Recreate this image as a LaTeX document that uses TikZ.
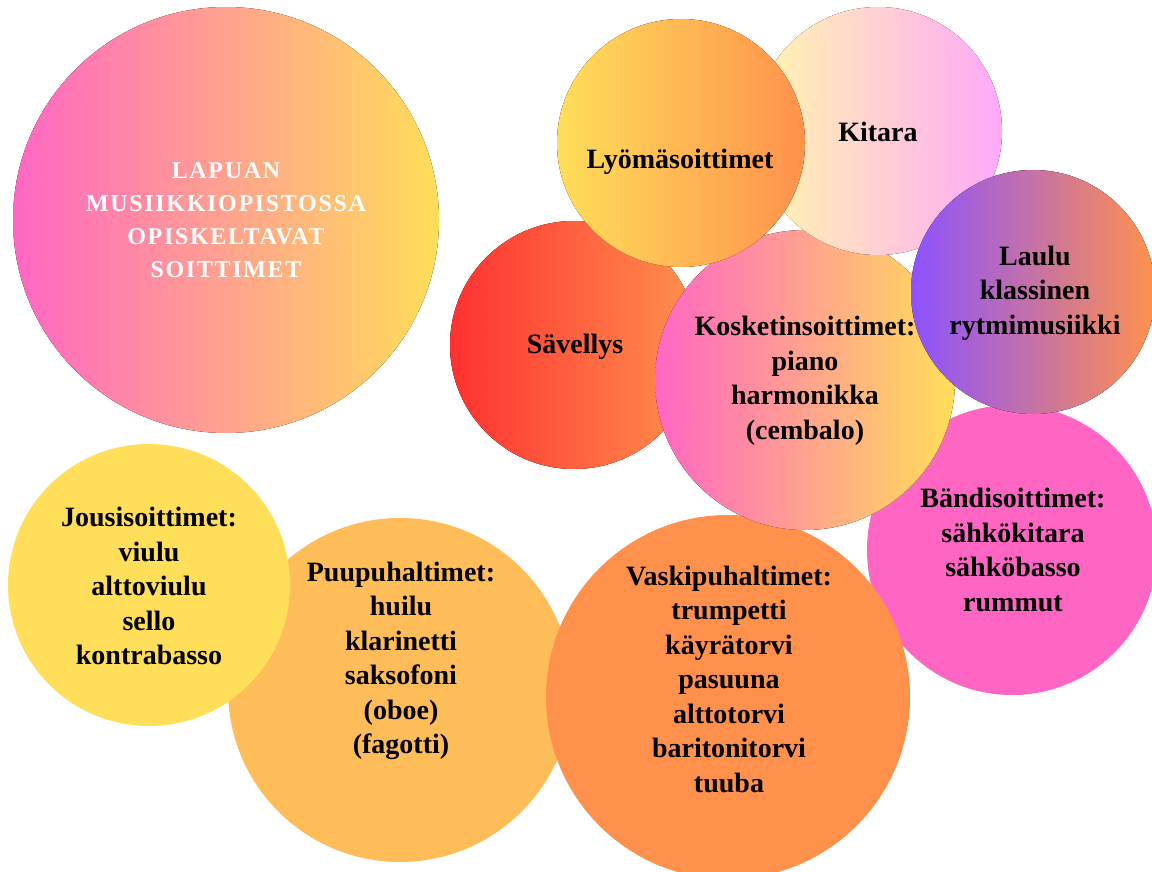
\documentclass[tikz,border=0pt]{standalone}
\usepackage{fontspec}
\setmainfont{Liberation Serif}
\newfontfamily\headfont[LetterSpace=7]{Liberation Serif}
\definecolor{rosa}{HTML}{FF66C4}
\definecolor{gelb}{HTML}{FFDE59}
\definecolor{oranssi}{HTML}{FF914D}
\definecolor{vaalea}{HTML}{FFBD59}
\definecolor{punainen}{HTML}{FF3131}
\definecolor{violetti}{HTML}{8C52FF}
\definecolor{kerma}{HTML}{FFF7AD}
\definecolor{roosa}{HTML}{FFA9F9}
\tikzset{
  lbl/.style={align=center, text=black, font=\fontsize{28}{34.5}\selectfont\bfseries},
  otsikko/.style={align=center, text=white, font=\headfont\fontsize{24}{33}\selectfont\bfseries}
}
\begin{document}
\begin{tikzpicture}[x=1pt, y=-1pt, line join=round, line cap=round]
\useasboundingbox (0,0) rectangle (1152,872);
\coordinate (O) at (226,220);
\coordinate (S) at (574,345);
\coordinate (P) at (400,690);
\coordinate (J) at (149,585);
\coordinate (B) at (1012,550);
\coordinate (V) at (728,697);
\coordinate (K) at (805,380);
\coordinate (T) at (878,131);
\coordinate (L) at (681,143);
\coordinate (U) at (1033,292);
% otsikko
\fill[rosa!50!gelb] (O) circle(213pt);
\fill[left color=rosa, right color=gelb] (O) circle(213pt);
\node[otsikko] (title) at (O) {LAPUAN\\MUSIIKKIOPISTOSSA\\OPISKELTAVAT\\SOITTIMET};
% kuplat takaa eteen
\fill[punainen!50!oranssi] (S) circle(124pt);
\fill[left color=punainen, right color=oranssi] (S) circle(124pt);
\node[lbl] (savellys) at (575,347) {Sävellys};
\fill[vaalea] (P) circle(172pt);
\node[lbl] (puu) at (401,661) {Puupuhaltimet:\\huilu\\klarinetti\\saksofoni\\(oboe)\\(fagotti)};
\fill[gelb] (J) circle(141pt);
\node[lbl] (jousi) at (149,586) {Jousisoittimet:\\viulu\\alttoviulu\\sello\\kontrabasso};
\fill[rosa] (B) circle(145pt);
\node[lbl] (bandi) at (1013,550) {Bändisoittimet:\\sähkökitara\\sähköbasso\\rummut};
\fill[oranssi] (V) circle(182pt);
\node[lbl] (vaski) at (729,679) {Vaskipuhaltimet:\\trumpetti\\käyrätorvi\\pasuuna\\alttotorvi\\baritonitorvi\\tuuba};
\fill[rosa!50!gelb] (K) circle(150pt);
\fill[left color=rosa, right color=gelb] (K) circle(150pt);
\node[lbl] (kosketin) at (805,381) {Kosketinsoittimet:\\piano\\harmonikka\\(cembalo)};
\fill[kerma!50!roosa] (T) circle(124pt);
\fill[left color=kerma, right color=roosa] (T) circle(124pt);
\node[lbl] (kitara) at (878,132) {Kitara};
\fill[gelb!50!oranssi] (L) circle(124pt);
\fill[left color=gelb, right color=oranssi] (L) circle(124pt);
\node[lbl] (lyoma) at (680,162) {Lyömäsoittimet};
\fill[violetti!50!oranssi] (U) circle(122pt);
\fill[left color=violetti, right color=oranssi] (U) circle(122pt);
\node[lbl] (laulu) at (1035,293) {Laulu\\klassinen\\rytmimusiikki};
\end{tikzpicture}
\end{document}
